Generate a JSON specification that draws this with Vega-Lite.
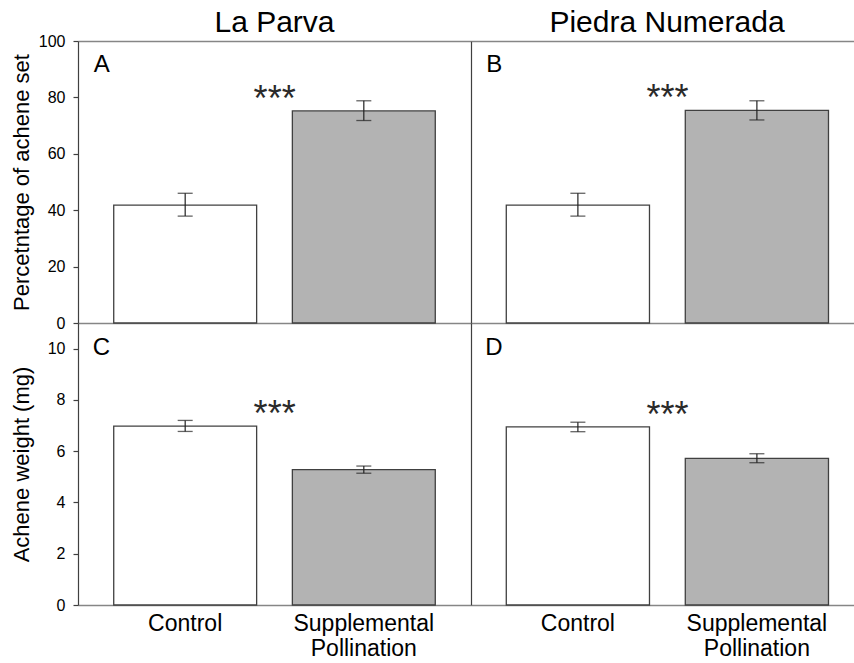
{
  "$schema": "https://vega.github.io/schema/vega-lite/v6.json",
  "autosize": {"type": "pad"},
  "padding": {"left": 9, "top": 8, "right": 0, "bottom": 0},
  "background": "#ffffff",
  "config": {
    "font": "Liberation Sans",
    "view": {"stroke": null},
    "axis": {"labelFont": "Liberation Sans", "titleFont": "Liberation Sans", "labelColor": "#000000", "titleColor": "#000000", "titleFontWeight": "normal", "domainColor": "#868686", "domainWidth": 1.5, "tickColor": "#404040", "grid": false},
    "axisY": {"domainColor": "#404040", "domainWidth": 1.2, "labelFontSize": 16, "titleFontSize": 22, "tickSize": 5, "tickWidth": 1.2, "labelPadding": 8, "titlePadding": 5},
    "axisX": {"labelFontSize": 23, "labelPadding": 7, "labelLineHeight": 25, "labelAngle": 0},
    "title": {"font": "Liberation Sans", "fontSize": 30, "fontWeight": "normal", "color": "#000000", "offset": 3, "frame": "group"}
  },
  "datasets": {
    "pct": [
      {"site": "La Parva", "cat": "Control", "value": 41.8, "lo": 37.9, "hi": 46.0},
      {"site": "La Parva", "cat": "Supplemental Pollination", "value": 75.2, "lo": 71.8, "hi": 78.8},
      {"site": "Piedra Numerada", "cat": "Control", "value": 41.8, "lo": 37.9, "hi": 46.0},
      {"site": "Piedra Numerada", "cat": "Supplemental Pollination", "value": 75.4, "lo": 72.0, "hi": 78.8}
    ],
    "wt": [
      {"site": "La Parva", "cat": "Control", "value": 6.98, "lo": 6.77, "hi": 7.2},
      {"site": "La Parva", "cat": "Supplemental Pollination", "value": 5.28, "lo": 5.14, "hi": 5.42},
      {"site": "Piedra Numerada", "cat": "Control", "value": 6.95, "lo": 6.76, "hi": 7.13},
      {"site": "Piedra Numerada", "cat": "Supplemental Pollination", "value": 5.72, "lo": 5.55, "hi": 5.9}
    ]
  },
  "columns": 2,
  "spacing": 0,
  "bounds": "flush",
  "concat": [
    {
      "width": 393, "height": 282,
      "title": {"text": "La Parva", "offset": -5},
      "data": {"name": "pct"},
      "transform": [{"filter": "datum.site === 'La Parva'"}],
      "resolve": {"axis": {"x": "independent", "y": "independent"}},
      "layer": [
        {"mark": {"type": "bar", "stroke": "#404040", "strokeWidth": 1.3},
         "encoding": {
           "x": {"field": "cat", "type": "nominal", "scale": {"domain": ["Control", "Supplemental Pollination"], "paddingInner": 0.2, "paddingOuter": 0.2}, "axis": {"orient": "bottom", "labels": false, "ticks": false, "title": null, "domain": true, "minExtent": 0, "maxExtent": 0}},
           "y": {"field": "value", "type": "quantitative", "scale": {"domain": [0, 100], "nice": false}, "axis": {"title": "Percetntage of achene set", "values": [0, 20, 40, 60, 80, 100], "minExtent": 40, "maxExtent": 40}},
           "fill": {"field": "cat", "type": "nominal", "scale": {"domain": ["Control", "Supplemental Pollination"], "range": ["#ffffff", "#b3b3b3"]}, "legend": null}
         }},
        {"mark": {"type": "rule", "color": "#222222", "strokeWidth": 1.2},
         "encoding": {
           "x": {"field": "cat", "type": "nominal", "axis": {"orient": "top", "labels": false, "ticks": false, "title": null, "domain": true, "minExtent": 0, "maxExtent": 0}},
           "y": {"field": "lo", "type": "quantitative", "axis": null},
           "y2": {"field": "hi"}
         }},
        {"mark": {"type": "tick", "color": "#222222", "size": 15, "thickness": 1.3},
         "encoding": {"x": {"field": "cat", "type": "nominal", "axis": null}, "y": {"field": "lo", "type": "quantitative", "axis": null}}},
        {"mark": {"type": "tick", "color": "#222222", "size": 15, "thickness": 1.3},
         "encoding": {"x": {"field": "cat", "type": "nominal", "axis": null}, "y": {"field": "hi", "type": "quantitative", "axis": null}}},
        {"transform": [{"joinaggregate": [{"op": "max", "field": "value", "as": "mx"}]}, {"filter": "datum.value === datum.mx"}],
         "mark": {"type": "text", "text": "***", "fontSize": 36, "dx": 18, "align": "center", "baseline": "alphabetic", "color": "#2a2a2a"},
         "encoding": {"x": {"datum": "Control", "type": "nominal", "bandPosition": 1, "axis": null}, "y": {"field": "value", "type": "quantitative", "axis": null}}},
        {"data": {"values": [{"letter": "A"}]},
         "mark": {"type": "text", "fontSize": 24, "align": "left", "baseline": "top", "dx": -20, "dy": 12, "color": "#000000"},
         "encoding": {"text": {"field": "letter"}, "x": {"datum": "Control", "type": "nominal", "bandPosition": 0, "axis": null}, "y": {"datum": 100, "type": "quantitative", "axis": null}}}
      ]
    },
    {
      "width": 384, "height": 282,
      "title": {"text": "Piedra Numerada", "dx": 4},
      "data": {"name": "pct"},
      "transform": [{"filter": "datum.site === 'Piedra Numerada'"}],
      "resolve": {"axis": {"x": "independent", "y": "independent"}},
      "layer": [
        {"mark": {"type": "bar", "stroke": "#404040", "strokeWidth": 1.3},
         "encoding": {
           "x": {"field": "cat", "type": "nominal", "scale": {"domain": ["Control", "Supplemental Pollination"], "paddingInner": 0.2, "paddingOuter": 0.1726, "align": 0.571}, "axis": {"orient": "bottom", "labels": false, "ticks": false, "title": null, "domain": true, "minExtent": 0, "maxExtent": 0}},
           "y": {"field": "value", "type": "quantitative", "scale": {"domain": [0, 100], "nice": false}, "axis": {"labels": false, "ticks": false, "title": null, "domain": true, "minExtent": 0, "maxExtent": 0}},
           "fill": {"field": "cat", "type": "nominal", "scale": {"domain": ["Control", "Supplemental Pollination"], "range": ["#ffffff", "#b3b3b3"]}, "legend": null}
         }},
        {"mark": {"type": "rule", "color": "#222222", "strokeWidth": 1.2},
         "encoding": {
           "x": {"field": "cat", "type": "nominal", "axis": {"orient": "top", "labels": false, "ticks": false, "title": null, "domain": true, "minExtent": 0, "maxExtent": 0}},
           "y": {"field": "lo", "type": "quantitative", "axis": null},
           "y2": {"field": "hi"}
         }},
        {"mark": {"type": "tick", "color": "#222222", "size": 15, "thickness": 1.3},
         "encoding": {"x": {"field": "cat", "type": "nominal", "axis": null}, "y": {"field": "lo", "type": "quantitative", "axis": null}}},
        {"mark": {"type": "tick", "color": "#222222", "size": 15, "thickness": 1.3},
         "encoding": {"x": {"field": "cat", "type": "nominal", "axis": null}, "y": {"field": "hi", "type": "quantitative", "axis": null}}},
        {"transform": [{"joinaggregate": [{"op": "max", "field": "value", "as": "mx"}]}, {"filter": "datum.value === datum.mx"}],
         "mark": {"type": "text", "text": "***", "fontSize": 36, "dx": 18, "align": "center", "baseline": "alphabetic", "color": "#2a2a2a"},
         "encoding": {"x": {"datum": "Control", "type": "nominal", "bandPosition": 1, "axis": null}, "y": {"field": "value", "type": "quantitative", "axis": null}}},
        {"data": {"values": [{"letter": "B"}]},
         "mark": {"type": "text", "fontSize": 24, "align": "left", "baseline": "top", "dx": -20, "dy": 12, "color": "#000000"},
         "encoding": {"text": {"field": "letter"}, "x": {"datum": "Control", "type": "nominal", "bandPosition": 0, "axis": null}, "y": {"datum": 100, "type": "quantitative", "axis": null}}}
      ]
    },
    {
      "width": 393, "height": 282,
      "data": {"name": "wt"},
      "transform": [{"filter": "datum.site === 'La Parva'"}],
      "resolve": {"axis": {"x": "independent", "y": "independent"}},
      "layer": [
        {"mark": {"type": "bar", "stroke": "#404040", "strokeWidth": 1.3},
         "encoding": {
           "x": {"field": "cat", "type": "nominal", "scale": {"domain": ["Control", "Supplemental Pollination"], "paddingInner": 0.2, "paddingOuter": 0.2}, "axis": {"orient": "bottom", "ticks": false, "title": null, "domain": true, "labelExpr": "split(datum.label, ' ')"}},
           "y": {"field": "value", "type": "quantitative", "scale": {"domain": [0, 11], "nice": false}, "axis": {"title": "Achene weight (mg)", "values": [0, 2, 4, 6, 8, 10], "minExtent": 40, "maxExtent": 40}},
           "fill": {"field": "cat", "type": "nominal", "scale": {"domain": ["Control", "Supplemental Pollination"], "range": ["#ffffff", "#b3b3b3"]}, "legend": null}
         }},
        {"mark": {"type": "rule", "color": "#222222", "strokeWidth": 1.2},
         "encoding": {
           "x": {"field": "cat", "type": "nominal", "axis": null},
           "y": {"field": "lo", "type": "quantitative", "axis": null},
           "y2": {"field": "hi"}
         }},
        {"mark": {"type": "tick", "color": "#222222", "size": 15, "thickness": 1.3},
         "encoding": {"x": {"field": "cat", "type": "nominal", "axis": null}, "y": {"field": "lo", "type": "quantitative", "axis": null}}},
        {"mark": {"type": "tick", "color": "#222222", "size": 15, "thickness": 1.3},
         "encoding": {"x": {"field": "cat", "type": "nominal", "axis": null}, "y": {"field": "hi", "type": "quantitative", "axis": null}}},
        {"transform": [{"joinaggregate": [{"op": "max", "field": "value", "as": "mx"}]}, {"filter": "datum.value === datum.mx"}],
         "mark": {"type": "text", "text": "***", "fontSize": 36, "dx": 18, "align": "center", "baseline": "alphabetic", "color": "#2a2a2a"},
         "encoding": {"x": {"datum": "Control", "type": "nominal", "bandPosition": 1, "axis": null}, "y": {"field": "value", "type": "quantitative", "axis": null}}},
        {"data": {"values": [{"letter": "C"}]},
         "mark": {"type": "text", "fontSize": 24, "align": "left", "baseline": "top", "dx": -21, "dy": 13, "color": "#000000"},
         "encoding": {"text": {"field": "letter"}, "x": {"datum": "Control", "type": "nominal", "bandPosition": 0, "axis": null}, "y": {"datum": 11, "type": "quantitative", "axis": null}}}
      ]
    },
    {
      "width": 384, "height": 282,
      "data": {"name": "wt"},
      "transform": [{"filter": "datum.site === 'Piedra Numerada'"}],
      "resolve": {"axis": {"x": "independent", "y": "independent"}},
      "layer": [
        {"mark": {"type": "bar", "stroke": "#404040", "strokeWidth": 1.3},
         "encoding": {
           "x": {"field": "cat", "type": "nominal", "scale": {"domain": ["Control", "Supplemental Pollination"], "paddingInner": 0.2, "paddingOuter": 0.1726, "align": 0.571}, "axis": {"orient": "bottom", "ticks": false, "title": null, "domain": true, "labelExpr": "split(datum.label, ' ')"}},
           "y": {"field": "value", "type": "quantitative", "scale": {"domain": [0, 11], "nice": false}, "axis": {"labels": false, "ticks": false, "title": null, "domain": true, "minExtent": 0, "maxExtent": 0}},
           "fill": {"field": "cat", "type": "nominal", "scale": {"domain": ["Control", "Supplemental Pollination"], "range": ["#ffffff", "#b3b3b3"]}, "legend": null}
         }},
        {"mark": {"type": "rule", "color": "#222222", "strokeWidth": 1.2},
         "encoding": {
           "x": {"field": "cat", "type": "nominal", "axis": null},
           "y": {"field": "lo", "type": "quantitative", "axis": null},
           "y2": {"field": "hi"}
         }},
        {"mark": {"type": "tick", "color": "#222222", "size": 15, "thickness": 1.3},
         "encoding": {"x": {"field": "cat", "type": "nominal", "axis": null}, "y": {"field": "lo", "type": "quantitative", "axis": null}}},
        {"mark": {"type": "tick", "color": "#222222", "size": 15, "thickness": 1.3},
         "encoding": {"x": {"field": "cat", "type": "nominal", "axis": null}, "y": {"field": "hi", "type": "quantitative", "axis": null}}},
        {"transform": [{"joinaggregate": [{"op": "max", "field": "value", "as": "mx"}]}, {"filter": "datum.value === datum.mx"}],
         "mark": {"type": "text", "text": "***", "fontSize": 36, "dx": 18, "align": "center", "baseline": "alphabetic", "color": "#2a2a2a"},
         "encoding": {"x": {"datum": "Control", "type": "nominal", "bandPosition": 1, "axis": null}, "y": {"field": "value", "type": "quantitative", "axis": null}}},
        {"data": {"values": [{"letter": "D"}]},
         "mark": {"type": "text", "fontSize": 24, "align": "left", "baseline": "top", "dx": -21, "dy": 13, "color": "#000000"},
         "encoding": {"text": {"field": "letter"}, "x": {"datum": "Control", "type": "nominal", "bandPosition": 0, "axis": null}, "y": {"datum": 11, "type": "quantitative", "axis": null}}}
      ]
    }
  ]
}
